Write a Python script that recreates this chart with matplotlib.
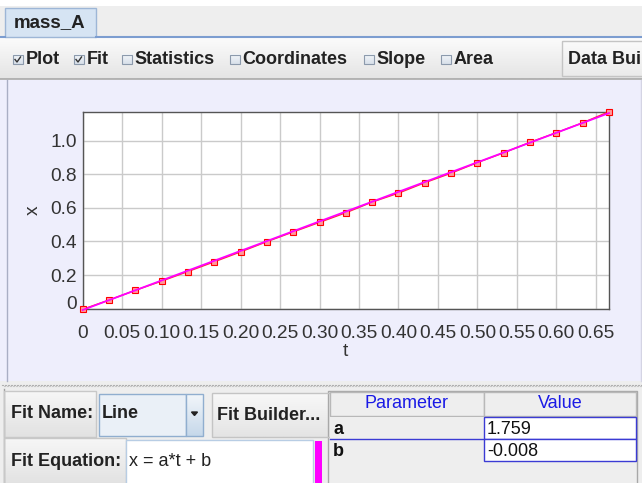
import numpy as np
import matplotlib
matplotlib.use('Agg')
import matplotlib.pyplot as plt
from matplotlib.patches import Rectangle

plt.rcParams['font.family'] = ['Liberation Sans', 'DejaVu Sans']

# ---------------- data ----------------
t = [0.0, 0.0333, 0.0667, 0.1, 0.1333, 0.1667, 0.2, 0.2333, 0.2667, 0.3, 0.3333,
     0.3667, 0.4, 0.4333, 0.4667, 0.5, 0.5333, 0.5667, 0.6, 0.6333, 0.6667]
x = [-0.004, 0.051, 0.109, 0.164, 0.221, 0.279, 0.338, 0.399, 0.457, 0.514, 0.571,
     0.635, 0.688, 0.750, 0.807, 0.870, 0.928, 0.991, 1.048, 1.107, 1.173]
fit_a = 1.759
fit_b = -0.008
x_ticks = [0, 0.05, 0.10, 0.15, 0.20, 0.25, 0.30, 0.35, 0.40, 0.45, 0.50, 0.55, 0.60, 0.65]
x_tick_labels = ['0', '0.05', '0.10', '0.15', '0.20', '0.25', '0.30', '0.35', '0.40',
                 '0.45', '0.50', '0.55', '0.60', '0.65']
y_ticks = [0, 0.2, 0.4, 0.6, 0.8, 1.0]
y_tick_labels = ['0', '0.2', '0.4', '0.6', '0.8', '1.0']
toolbar_names = ['Plot', 'Fit', 'Statistics', 'Coordinates', 'Slope', 'Area']
toolbar_checked = [True, True, False, False, False, False]
param_names = ['a', 'b']
param_values = ['1.759', '-0.008']

# ---------------- layout ----------------
W, H = 642, 483
fig = plt.figure(figsize=(W / 100, H / 100), dpi=100)
fig.patch.set_facecolor('white')
bg = fig.add_axes([0, 0, 1, 1])
bg.set_xlim(0, W)
bg.set_ylim(H, 0)
bg.axis('off')

FS = 13


def rect(x0, y0, x1, y1, fc, ec='none', lw=1, z=1, **kw):
    bg.add_patch(Rectangle((x0, y0), x1 - x0, y1 - y0, facecolor=fc, edgecolor=ec,
                           linewidth=lw, zorder=z, **kw))


def grad(x0, y0, x1, y1, ctop, cbot, z=1):
    c0 = np.array(matplotlib.colors.to_rgb(ctop))
    c1 = np.array(matplotlib.colors.to_rgb(cbot))
    n = 32
    img = (c0[None, :] * (1 - np.linspace(0, 1, n))[:, None] + c1[None, :] * np.linspace(0, 1, n)[:, None])
    bg.imshow(img[:, None, :], extent=(x0, x1, y1, y0), aspect='auto', zorder=z,
              interpolation='bilinear')


def txt(xp, yp, s, bold=False, color='#222222', ha='left', size=FS, z=5):
    bg.text(xp, yp, s, fontsize=size, fontweight='bold' if bold else 'normal',
            color=color, ha=ha, va='center', zorder=z)


# tab strip
rect(0, 6, W, 37, '#EEEEEE')
rect(5, 8, 96, 37, '#D6E4F3', ec='#9DB6D6', z=2)
txt(14, 23, 'mass_A', bold=True, size=13.5)
bg.plot([96, W], [36.5, 36.5], color='#7C9DD0', lw=1.5, zorder=3)
bg.plot([0, 5], [36.5, 36.5], color='#7C9DD0', lw=1.5, zorder=3)

# toolbar
grad(0, 38, W, 79, '#FBFBFB', '#E4E4E4')
bg.plot([0, W], [78.5, 78.5], color='#A8A8A8', lw=1.2, zorder=3)
box_x = [13, 74, 122, 230, 364, 441]
for bx, name, chk in zip(box_x, toolbar_names, toolbar_checked):
    grad(bx, 54.5, bx + 9.5, 64, '#F4F7FA', '#D8E0EA', z=3)
    rect(bx, 54.5, bx + 9.5, 64, 'none', ec='#8C9AAC', lw=0.8, z=4)
    if chk:
        bg.plot([bx + 2, bx + 4, bx + 7.5], [59.5, 62, 57], color='#333333', lw=1.0, zorder=5)
    txt(bx + 12.5, 59.5, name, bold=True)
grad(562, 41, W + 2, 76, '#FAFAFA', '#EBEBEB', z=2)
rect(562, 41, W + 2, 76, 'none', ec='#C4C4C4', lw=1, z=3)
txt(568, 59.5, 'Data Bui', bold=True)

# plot panel
rect(0, 79.5, W, 381, '#EEEEFC')
bg.plot([6.5, 6.5], [80, 381], color='#A9AEC4', lw=1, zorder=3)
bg.plot([640.5, 640.5], [80, 381], color='#D4D4E4', lw=1, zorder=3)

# separator
rect(0, 381, W, 389, '#EEEEEE')
for xx in np.arange(2, W, 3):
    bg.plot([xx, xx + 1], [385, 385], color='#B0B0B0', lw=0.8, zorder=2)
    bg.plot([xx + 1.5, xx + 2.5], [386.2, 386.2], color='#C8C8C8', lw=0.8, zorder=2)

# bottom panel
rect(0, 389, W, H, '#EEEEEE')
bg.plot([3.5, 3.5], [389, H], color='#A0A0A0', lw=1, zorder=3)
# fit name row
grad(4, 391, 96, 437, '#F6F6F6', '#E2E2E2', z=2)
rect(4, 391, 96, 437, 'none', ec='#C8C8C8', z=3)
txt(11, 414, 'Fit Name:', bold=True)
rect(99, 394, 186, 436, '#EAF0F7', ec='#90AECF', z=3)
txt(102, 414, 'Line', bold=True)
grad(186, 394, 203, 436, '#F2F6FA', '#C6D8EA', z=3)
rect(186, 394, 203, 436, 'none', ec='#90AECF', z=4)
bg.fill([191.5, 197.5, 194.5], [412, 412, 415.5], color='#222222', zorder=5)
grad(212, 393, 330, 437, '#F8F8F8', '#E4E4E4', z=2)
rect(212, 393, 330, 437, 'none', ec='#C4C4C4', z=3)
txt(217, 415, 'Fit Builder...', bold=True)
# fit equation row
grad(4, 438, 126, H + 2, '#F6F6F6', '#E2E2E2', z=2)
rect(4, 438, 126, H + 2, 'none', ec='#C8C8C8', z=3)
txt(11, 462, 'Fit Equation:', bold=True)
rect(126, 440, 313, H + 2, 'white', ec='#B8CDE4', z=3)
txt(129, 462, 'x = a*t + b')
rect(315, 441, 322, H + 2, '#FF00FF', z=4)

# parameter table
rect(328, 391, 637, H + 2, '#EEEEEE', ec='#A8A8A8', z=2)
rect(330, 392, 484, 416, '#EEEEEE', ec='#B8B8B8', z=3)
rect(484, 392, 636, 416, '#EEEEEE', ec='#B8B8B8', z=3)
txt(407, 404, 'Parameter', color='#1A1AE6', ha='center')
txt(560, 404, 'Value', color='#1A1AE6', ha='center')
row_y = [417, 439]
for ry, pn, pv in zip(row_y, param_names, param_values):
    rect(330, ry, 484, ry + 22, '#EEEEEE', z=3)
    rect(484, ry, 636, ry + 22, 'white', ec='#3B3BD4', z=4)
    txt(333, ry + 12, pn, bold=True, color='#111111')
    txt(487, ry + 12, pv, color='#111111')
bg.plot([330, 484], [439, 439], color='#3B3BD4', lw=1, zorder=5)

# ---------------- the plot ----------------
L, R, T, B = 82.7, 609.0, 111.7, 309.3
ax = fig.add_axes([L / W, 1 - B / H, (R - L) / W, (B - T) / H])
ax.set_facecolor('white')
ax.set_xlim(min(t), max(t))
ax.set_ylim(min(x), max(x))
ax.set_xticks(x_ticks)
ax.set_xticklabels(x_tick_labels)
ax.set_yticks(y_ticks)
ax.set_yticklabels(y_tick_labels)
ax.grid(True, color='#CACACA', lw=1)
ax.set_axisbelow(True)
ax.tick_params(length=0, labelsize=13.8, labelcolor='#333333')
ax.tick_params(axis='x', pad=11)
ax.tick_params(axis='y', pad=4)
for s in ax.spines.values():
    s.set_color('#555555')
    s.set_linewidth(1)
ax.set_xlabel('t', fontsize=13.8, color='#333333', labelpad=1)
ax.set_ylabel('x', fontsize=13.8, color='#333333', labelpad=6)

ax.plot(t, x, color='#FF3030', lw=1, zorder=3, clip_on=False)
ax.plot(t, x, ls='none', marker='s', ms=4, mec='#FF0000', mfc='#FF9A9A', mew=0.8,
        zorder=4, clip_on=False)
tf = np.array([min(t), max(t)])
ax.plot(tf, fit_a * tf + fit_b, color='#FF00FF', lw=1.3, zorder=5, clip_on=False)

ylab0 = ax.get_yticklabels()[0]
ylab0.set_va('baseline')

fig.savefig('out.png', dpi=100)
